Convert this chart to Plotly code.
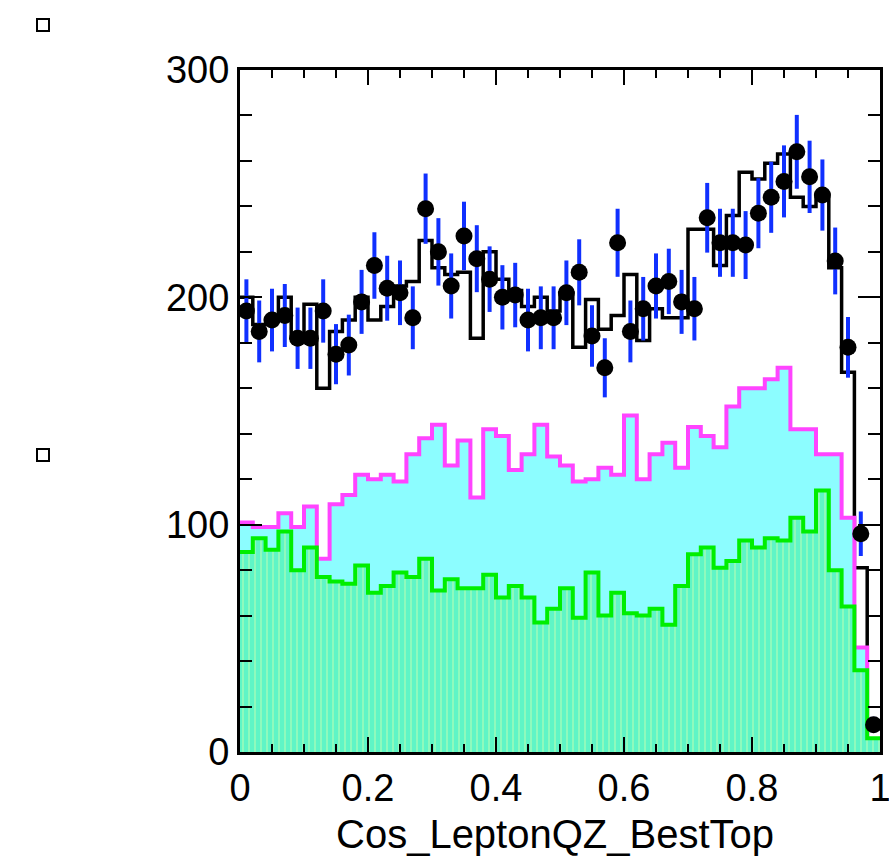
import numpy as np
import plotly.graph_objects as go

# ---- data (50 bins from 0 to 1) ----
bin_edges = [round(i * 0.02, 2) for i in range(51)]

data_counts = [194, 185, 190, 192, 182, 182, 194, 175, 179, 198,
               214, 204, 202, 191, 239, 220, 205, 227, 217, 208,
               200, 201, 190, 191, 191, 202, 211, 183, 169, 224,
               185, 195, 205, 207, 198, 195, 235, 224, 224, 223,
               237, 244, 251, 264, 253, 245, 216, 178, 96, 12]

total_mc = [200, 188, 190, 200, 182, 197, 160, 185, 190, 200,
            190, 196, 205, 207, 225, 213, 210, 211, 182, 220,
            208, 203, 196, 200, 194, 202, 178, 199, 186, 192,
            210, 181, 195, 191, 191, 230, 230, 214, 236, 255,
            252, 259, 263, 244, 240, 245, 213, 167, 81, 12]

magenta_bkg = [101, 99, 99, 105, 99, 108, 85, 109, 113, 122,
               120, 122, 119, 131, 138, 144, 126, 137, 112, 142,
               139, 124, 131, 144, 130, 126, 119, 120, 125, 122,
               148, 120, 131, 136, 125, 143, 139, 134, 152, 160,
               160, 164, 169, 142, 142, 131, 131, 103, 46, 4]

green_bkg = [88, 94, 89, 97, 80, 90, 77, 75, 74, 82,
             70, 73, 79, 77, 85, 71, 76, 72, 72, 78,
             68, 73, 68, 57, 63, 72, 59, 79, 60, 70,
             61, 60, 63, 56, 73, 87, 90, 81, 84, 93,
             90, 94, 93, 103, 97, 115, 80, 64, 36, 6]

x_title = "Cos_LeptonQZ_BestTop"
y_ticks = [0, 100, 200, 300]
x_ticks = [0, 0.2, 0.4, 0.6, 0.8, 1]
x_ticklabels = ["0", "0.2", "0.4", "0.6", "0.8", "1"]

centers = [(bin_edges[i] + bin_edges[i + 1]) / 2 for i in range(50)]


def step(vals):
    return bin_edges, list(vals) + [vals[-1]]


fig = go.Figure()

# total MC outline
sx, sy = step(total_mc)
fig.add_trace(go.Scatter(x=sx, y=sy, mode="lines", line_shape="hv",
                         line=dict(color="black", width=3.5), showlegend=False))

# magenta histogram, cyan fill
sx, sy = step(magenta_bkg)
fig.add_trace(go.Scatter(x=sx, y=sy, mode="lines", line_shape="hv", fill="tozeroy",
                         fillcolor="#8cfdff",
                         line=dict(color="#ff44ff", width=4), showlegend=False))

# green histogram, hatched fill
sx, sy = step(green_bkg)
fig.add_trace(go.Scatter(x=sx, y=sy, mode="lines", line_shape="hv", fill="tozeroy",
                         fillcolor="#66f5c8",
                         fillpattern=dict(shape="|", size=6, solidity=0.3,
                                          fgcolor="#c8ffb0", bgcolor="#5ff5c6"),
                         line=dict(color="#00ee00", width=4), showlegend=False))

# data points
fig.add_trace(go.Scatter(x=centers, y=data_counts, mode="markers",
                         marker=dict(color="black", size=17),
                         error_y=dict(type="data", array=list(np.sqrt(data_counts)),
                                      color="#1030ff", thickness=4, width=0),
                         showlegend=False))

axis_font = dict(family="Liberation Sans, Arial, sans-serif", size=38, color="black")
title_font = dict(family="Liberation Sans, Arial, sans-serif", size=40, color="black")

fig.update_xaxes(range=[0, 1], tickvals=x_ticks, ticktext=x_ticklabels,
                 ticks="inside", ticklen=15, tickwidth=2, tickcolor="black",
                 showline=True, linewidth=3, linecolor="black", mirror="allticks",
                 showgrid=False, zeroline=False, tickfont=axis_font, automargin=False,
                 ticklabeloverflow="allow",
                 minor=dict(dtick=0.05, tick0=0, ticks="inside", ticklen=8,
                            tickwidth=2, tickcolor="black", showgrid=False))
fig.update_yaxes(range=[0, 300], tickvals=y_ticks,
                 ticks="inside", ticklen=22, tickwidth=2, tickcolor="black",
                 showline=True, linewidth=3, linecolor="black", mirror="allticks",
                 showgrid=False, zeroline=False, tickfont=axis_font, automargin=False,
                 ticklabeloverflow="allow",
                 minor=dict(dtick=20, tick0=0, ticks="inside", ticklen=12,
                            tickwidth=2, tickcolor="black", showgrid=False))

W, H = 889, 856
L, R, T, B = 240, 880, 70, 752


def px(x):
    return (x - L) / (R - L)


def py(y):
    return (B - y) / (B - T)


shapes = []
for cy in (25, 455):
    shapes.append(dict(type="rect", xref="paper", yref="paper",
                       x0=px(37), x1=px(49), y0=py(cy + 6), y1=py(cy - 6),
                       line=dict(color="black", width=2), fillcolor="white"))

fig.update_layout(
    width=W, height=H,
    margin=dict(l=L, r=W - R, t=T, b=H - B, autoexpand=False),
    paper_bgcolor="white", plot_bgcolor="white",
    shapes=shapes,
    annotations=[dict(text=x_title, xref="paper", yref="paper",
                      x=px(555), y=py(834), xanchor="center", yanchor="middle",
                      showarrow=False, font=title_font)],
)

fig.write_html("out.html")
